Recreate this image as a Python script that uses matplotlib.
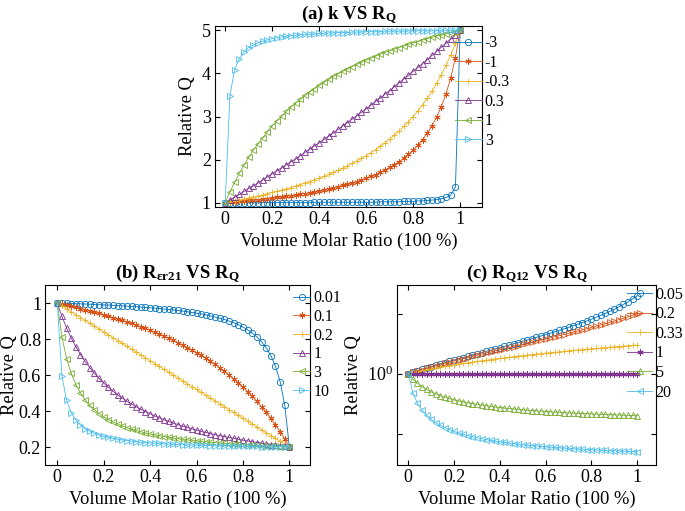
import matplotlib.pyplot as plt
from matplotlib.ticker import FixedLocator, FixedFormatter, NullLocator

# volume molar ratio (shared x for every panel)
ratio = [0.00, 0.02, 0.04, 0.06, 0.08, 0.10, 0.12, 0.14, 0.16, 0.18,
         0.20, 0.22, 0.24, 0.26, 0.28, 0.30, 0.32, 0.34, 0.36, 0.38,
         0.40, 0.42, 0.44, 0.46, 0.48, 0.50, 0.52, 0.54, 0.56, 0.58,
         0.60, 0.62, 0.64, 0.66, 0.68, 0.70, 0.72, 0.74, 0.76, 0.78,
         0.80, 0.82, 0.84, 0.86, 0.88, 0.90, 0.92, 0.94, 0.96, 0.98, 1.00]

# (a) k VS RQ
k_labels = ['-3', '-1', '-0.3', '0.3', '1', '3']
k_m3 = [1.00, 1.00, 1.00, 1.00, 1.00, 1.00, 1.00, 1.00, 1.00, 1.00,
        1.00, 1.00, 1.00, 1.00, 1.00, 1.00, 1.00, 1.00, 1.00, 1.01,
        1.01, 1.01, 1.01, 1.01, 1.01, 1.01, 1.01, 1.01, 1.01, 1.01,
        1.01, 1.01, 1.01, 1.02, 1.02, 1.02, 1.02, 1.02, 1.03, 1.03,
        1.03, 1.04, 1.04, 1.05, 1.06, 1.07, 1.09, 1.12, 1.18, 1.36, 5.00]
k_m1 = [1.00, 1.01, 1.02, 1.03, 1.04, 1.05, 1.06, 1.07, 1.08, 1.09,
        1.11, 1.12, 1.13, 1.15, 1.16, 1.18, 1.20, 1.21, 1.23, 1.25,
        1.27, 1.30, 1.32, 1.34, 1.37, 1.40, 1.43, 1.46, 1.49, 1.53,
        1.57, 1.61, 1.65, 1.70, 1.76, 1.82, 1.88, 1.95, 2.03, 2.12,
        2.22, 2.34, 2.46, 2.61, 2.79, 2.99, 3.23, 3.53, 3.90, 4.37, 5.00]
k_m03 = [1.00, 1.02, 1.04, 1.06, 1.09, 1.11, 1.13, 1.16, 1.18, 1.21,
         1.24, 1.26, 1.29, 1.32, 1.35, 1.39, 1.42, 1.46, 1.49, 1.53,
         1.57, 1.61, 1.66, 1.70, 1.75, 1.80, 1.85, 1.91, 1.97, 2.03,
         2.09, 2.16, 2.23, 2.31, 2.39, 2.47, 2.57, 2.66, 2.77, 2.88,
         3.00, 3.13, 3.27, 3.42, 3.59, 3.77, 3.97, 4.19, 4.43, 4.70, 5.00]
k_p03 = [1.00, 1.06, 1.13, 1.19, 1.26, 1.33, 1.39, 1.46, 1.53, 1.60,
         1.67, 1.74, 1.81, 1.88, 1.95, 2.02, 2.09, 2.17, 2.24, 2.32,
         2.39, 2.47, 2.54, 2.62, 2.70, 2.78, 2.86, 2.94, 3.02, 3.10,
         3.18, 3.26, 3.35, 3.43, 3.52, 3.60, 3.69, 3.78, 3.87, 3.96,
         4.05, 4.14, 4.23, 4.32, 4.42, 4.51, 4.61, 4.70, 4.80, 4.90, 5.00]
k_p1 = [1.00, 1.25, 1.47, 1.68, 1.87, 2.05, 2.22, 2.37, 2.51, 2.65,
        2.78, 2.90, 3.01, 3.12, 3.22, 3.31, 3.40, 3.49, 3.57, 3.65,
        3.72, 3.79, 3.86, 3.93, 3.99, 4.05, 4.10, 4.16, 4.21, 4.26,
        4.31, 4.36, 4.40, 4.45, 4.49, 4.53, 4.57, 4.60, 4.64, 4.68,
        4.71, 4.74, 4.78, 4.81, 4.84, 4.87, 4.89, 4.92, 4.95, 4.97, 5.00]
k_p3 = [1.00, 3.48, 4.08, 4.34, 4.50, 4.60, 4.66, 4.71, 4.75, 4.78,
        4.81, 4.83, 4.85, 4.86, 4.88, 4.89, 4.90, 4.91, 4.91, 4.92,
        4.93, 4.93, 4.94, 4.94, 4.95, 4.95, 4.95, 4.96, 4.96, 4.96,
        4.97, 4.97, 4.97, 4.97, 4.98, 4.98, 4.98, 4.98, 4.98, 4.99,
        4.99, 4.99, 4.99, 4.99, 4.99, 4.99, 5.00, 5.00, 5.00, 5.00, 5.00]

# (b) R_er21 VS RQ
e_labels = ['0.01', '0.1', '0.2', '1', '3', '10']
e_001 = [1.000, 0.999, 0.998, 0.997, 0.997, 0.996, 0.995, 0.994, 0.992, 0.991,
         0.990, 0.989, 0.988, 0.986, 0.985, 0.983, 0.982, 0.980, 0.978, 0.976,
         0.974, 0.972, 0.970, 0.967, 0.965, 0.962, 0.959, 0.956, 0.952, 0.948,
         0.944, 0.940, 0.935, 0.929, 0.923, 0.916, 0.909, 0.900, 0.891, 0.880,
         0.867, 0.852, 0.834, 0.812, 0.785, 0.752, 0.708, 0.649, 0.564, 0.432, 0.200]
e_01 = [1.000, 0.994, 0.989, 0.983, 0.976, 0.970, 0.964, 0.957, 0.950, 0.943,
        0.936, 0.928, 0.920, 0.912, 0.904, 0.896, 0.887, 0.878, 0.868, 0.859,
        0.849, 0.838, 0.827, 0.816, 0.805, 0.793, 0.780, 0.767, 0.753, 0.739,
        0.725, 0.709, 0.693, 0.676, 0.659, 0.640, 0.621, 0.601, 0.579, 0.557,
        0.533, 0.508, 0.482, 0.454, 0.424, 0.393, 0.359, 0.323, 0.285, 0.244, 0.200]
e_02 = [1.000, 0.984, 0.968, 0.952, 0.936, 0.920, 0.904, 0.888, 0.872, 0.856,
        0.840, 0.824, 0.808, 0.792, 0.776, 0.760, 0.744, 0.728, 0.712, 0.696,
        0.680, 0.664, 0.648, 0.632, 0.616, 0.600, 0.584, 0.568, 0.552, 0.536,
        0.520, 0.504, 0.488, 0.472, 0.456, 0.440, 0.424, 0.408, 0.392, 0.376,
        0.360, 0.344, 0.328, 0.312, 0.296, 0.280, 0.264, 0.248, 0.232, 0.216, 0.200]
e_1 = [1.000, 0.926, 0.862, 0.806, 0.758, 0.714, 0.676, 0.641, 0.610, 0.581,
       0.556, 0.532, 0.510, 0.490, 0.472, 0.455, 0.439, 0.424, 0.410, 0.397,
       0.385, 0.373, 0.362, 0.352, 0.342, 0.333, 0.325, 0.316, 0.309, 0.301,
       0.294, 0.287, 0.281, 0.275, 0.269, 0.263, 0.258, 0.253, 0.248, 0.243,
       0.238, 0.234, 0.229, 0.225, 0.221, 0.217, 0.214, 0.210, 0.207, 0.203, 0.200]
e_3 = [1.000, 0.813, 0.692, 0.609, 0.547, 0.500, 0.463, 0.432, 0.407, 0.386,
       0.368, 0.353, 0.339, 0.328, 0.317, 0.308, 0.299, 0.292, 0.285, 0.278,
       0.273, 0.267, 0.263, 0.258, 0.254, 0.250, 0.246, 0.243, 0.240, 0.237,
       0.234, 0.231, 0.229, 0.227, 0.224, 0.222, 0.220, 0.218, 0.216, 0.215,
       0.213, 0.212, 0.210, 0.209, 0.207, 0.206, 0.205, 0.203, 0.202, 0.201, 0.200]
e_10 = [1.000, 0.596, 0.459, 0.391, 0.350, 0.322, 0.302, 0.288, 0.276, 0.267,
        0.259, 0.253, 0.248, 0.243, 0.239, 0.236, 0.233, 0.230, 0.227, 0.225,
        0.223, 0.222, 0.220, 0.218, 0.217, 0.216, 0.215, 0.213, 0.212, 0.211,
        0.211, 0.210, 0.209, 0.208, 0.207, 0.207, 0.206, 0.206, 0.205, 0.204,
        0.204, 0.203, 0.203, 0.203, 0.202, 0.202, 0.201, 0.201, 0.201, 0.200, 0.200]

# (c) RQ12 VS RQ
q_labels = ['0.05', '0.2', '0.33', '1', '5', '20']
q_005 = [1.000, 1.058, 1.118, 1.180, 1.245, 1.311, 1.381, 1.453, 1.528, 1.606,
         1.687, 1.771, 1.859, 1.951, 2.047, 2.148, 2.253, 2.363, 2.478, 2.600,
         2.727, 2.862, 3.003, 3.153, 3.311, 3.478, 3.656, 3.845, 4.046, 4.260,
         4.490, 4.736, 5.000, 5.285, 5.592, 5.926, 6.289, 6.685, 7.119, 7.596,
         8.125, 8.713, 9.371, 10.11, 10.95, 11.91, 13.03, 14.33, 15.87, 17.72, 20.00]
q_02 = [1.000, 1.055, 1.111, 1.169, 1.229, 1.290, 1.354, 1.419, 1.486, 1.556,
        1.628, 1.702, 1.779, 1.858, 1.940, 2.025, 2.113, 2.205, 2.299, 2.398,
        2.500, 2.606, 2.717, 2.832, 2.952, 3.077, 3.208, 3.344, 3.487, 3.636,
        3.793, 3.958, 4.130, 4.312, 4.504, 4.706, 4.919, 5.145, 5.385, 5.639,
        5.909, 6.197, 6.505, 6.834, 7.188, 7.568, 7.978, 8.421, 8.902, 9.427, 10.00]
q_033 = [1.00, 1.04, 1.08, 1.12, 1.16, 1.20, 1.24, 1.28, 1.32, 1.36,
         1.40, 1.44, 1.48, 1.52, 1.56, 1.60, 1.64, 1.68, 1.72, 1.76,
         1.80, 1.84, 1.88, 1.92, 1.96, 2.00, 2.04, 2.08, 2.12, 2.16,
         2.20, 2.24, 2.28, 2.32, 2.36, 2.40, 2.44, 2.48, 2.52, 2.56,
         2.60, 2.64, 2.68, 2.72, 2.76, 2.80, 2.84, 2.88, 2.92, 2.96, 3.00]
q_1 = [1.0] * 51
q_5 = [1.000, 0.813, 0.692, 0.609, 0.547, 0.500, 0.463, 0.432, 0.407, 0.386,
       0.368, 0.353, 0.339, 0.328, 0.317, 0.308, 0.299, 0.292, 0.285, 0.278,
       0.273, 0.267, 0.263, 0.258, 0.254, 0.250, 0.246, 0.243, 0.240, 0.237,
       0.234, 0.231, 0.229, 0.227, 0.224, 0.222, 0.220, 0.218, 0.216, 0.215,
       0.213, 0.212, 0.210, 0.209, 0.207, 0.206, 0.205, 0.203, 0.202, 0.201, 0.200]
q_20 = [1.000, 0.477, 0.321, 0.247, 0.203, 0.174, 0.153, 0.138, 0.126, 0.117,
        0.109, 0.103, 0.0976, 0.0930, 0.0890, 0.0856, 0.0825, 0.0798, 0.0773, 0.0751,
        0.0732, 0.0714, 0.0697, 0.0682, 0.0668, 0.0656, 0.0644, 0.0633, 0.0623, 0.0613,
        0.0604, 0.0596, 0.0588, 0.0581, 0.0574, 0.0567, 0.0561, 0.0555, 0.0550, 0.0544,
        0.0539, 0.0535, 0.0530, 0.0526, 0.0522, 0.0518, 0.0514, 0.0510, 0.0507, 0.0503, 0.0500]

plt.rcParams['font.family'] = 'Liberation Serif'
plt.rcParams['mathtext.fontset'] = 'custom'
plt.rcParams['mathtext.rm'] = 'Liberation Serif'
plt.rcParams['mathtext.bf'] = 'Liberation Serif:bold'
plt.rcParams['mathtext.it'] = 'Liberation Serif:italic'
plt.rcParams['xtick.direction'] = 'in'
plt.rcParams['ytick.direction'] = 'in'
plt.rcParams['xtick.top'] = True
plt.rcParams['ytick.right'] = True
plt.rcParams['xtick.labelsize'] = 13
plt.rcParams['ytick.labelsize'] = 13

colors = ['#0072BD', '#D95319', '#EDB120', '#7E2F8E', '#77AC30', '#4DBEEE']
ast = (6, 2, 0)  # MATLAB-like asterisk


def draw(ax, ys, labels, markers, leg_xy, hlen, lspace, ylpad=4):
    for y, lab, mk, c in zip(ys, labels, markers, colors):
        ax.plot(ratio, y, color=c, marker=mk, markersize=4.5, markerfacecolor='none',
                markeredgewidth=0.6, linewidth=0.6, label=lab)
    ax.set_xticks([0, 0.2, 0.4, 0.6, 0.8, 1])
    ax.set_xticklabels(['0', '0.2', '0.4', '0.6', '0.8', '1'])
    ax.set_xlabel('Volume Molar Ratio (100 %)', fontsize=13.3, labelpad=3)
    ax.set_ylabel('Relative Q', fontsize=13.3, labelpad=ylpad)
    ax.tick_params(length=3.5, width=0.8, pad=3)
    for s in ax.spines.values():
        s.set_linewidth(0.8)
    ax.legend(frameon=False, loc='upper left', bbox_to_anchor=leg_xy, borderpad=0,
              borderaxespad=0, handlelength=hlen, handletextpad=0.2,
              labelspacing=lspace, fontsize=11.5)


fig = plt.figure(figsize=(6.85, 5.11), dpi=100)

# (a)
ax1 = fig.add_axes([0.314, 0.595, 0.390, 0.354])
draw(ax1, [k_m3, k_m1, k_m03, k_p03, k_p1, k_p3], k_labels,
     ['o', ast, '+', '^', '<', '>'], (0.899, 0.95), 1.65, 0.22)
ax1.set_xlim(-0.043, 1.094)
ax1.set_ylim(0.9, 5.1)
ax1.set_yticks([1, 2, 3, 4, 5])
ax1.set_title(r'(a) k VS R$_\mathbf{Q}$', fontsize=13.5, fontweight='bold', pad=4)

# (b)
ax2 = fig.add_axes([0.066, 0.090, 0.387, 0.352])
draw(ax2, [e_001, e_01, e_02, e_1, e_3, e_10], e_labels,
     ['o', ast, '+', '^', '<', '>'], (0.936, 0.972), 1.05, 0.17, ylpad=0.5)
ax2.set_xlim(-0.052, 1.09)
ax2.set_ylim(0.1, 1.1)
ax2.set_yticks([0.2, 0.4, 0.6, 0.8, 1])
ax2.set_yticklabels(['0.2', '0.4', '0.6', '0.8', '1'])
ax2.set_title(r'(b) R$_\mathbf{\epsilon r21}$ VS R$_\mathbf{Q}$', fontsize=13.5,
              fontweight='bold', pad=4)

# (c)
ax3 = fig.add_axes([0.580, 0.090, 0.377, 0.352])
draw(ax3, [q_005, q_02, q_033, q_1, q_5, q_20], q_labels,
     ['o', '>', '+', ast, '^', '<'], (0.891, 0.99), 1.55, 0.22)
ax3.set_yscale('log')
ax3.set_xlim(-0.048, 1.08)
ax3.set_ylim(0.03, 30)
ax3.yaxis.set_major_locator(FixedLocator([0.1, 1, 10]))
ax3.yaxis.set_major_formatter(FixedFormatter(['', r'$10^0$', '']))
ax3.yaxis.set_minor_locator(NullLocator())
ax3.set_title(r'(c) R$_\mathbf{Q12}$ VS R$_\mathbf{Q}$', fontsize=13.5,
              fontweight='bold', pad=4)

fig.savefig('out.png', dpi=100)
